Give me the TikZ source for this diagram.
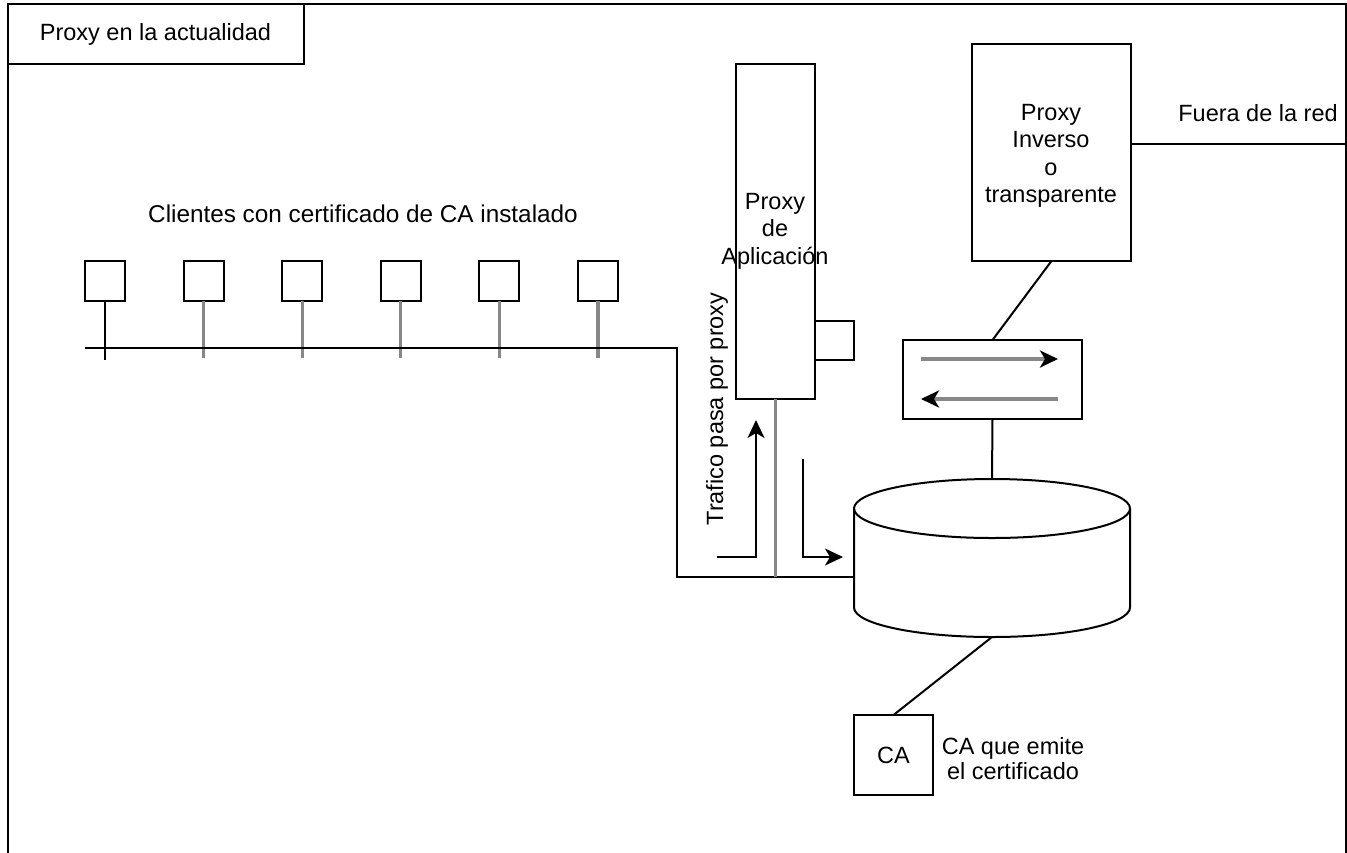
\documentclass[tikz,border=0pt]{standalone}
\usepackage{fontspec}
\setmainfont{Liberation Sans}
\usetikzlibrary{arrows.meta}
\definecolor{stemgray}{RGB}{135,135,135}
\begin{document}
\begin{tikzpicture}[x=1pt,y=-1pt, line width=2pt,
  every node/.style={font=\fontsize{23.5}{27.5}\selectfont, inner sep=0pt, outer sep=0pt},
  box/.style={draw, rectangle},
  ghost/.style={rectangle},
  stem/.style={draw=stemgray, line width=3.2pt},
  tip/.style={-{Stealth[length=18pt,width=17pt,inset=5pt,color=black]}}]
\useasboundingbox (0,0) rectangle (1347,852);
\clip (0,0) rectangle (1347,852);

% outer frame
\coordinate (fBL) at (8,900);
\coordinate (fTL) at (8,4);
\coordinate (fTR) at (1346,4);
\coordinate (fBR) at (1346,900);
\draw (fBL) -- (fTL) -- (fTR) -- (fBR);

% title
\node[box, minimum width=296, minimum height=60] (title) at (155.5,34) {};
\node (titletxt) at (title.center) {Proxy en la actualidad};

% clients
\node[font=\fontsize{24.3}{28}\selectfont] (clitxt) at (363,214) {Clientes con certificado de CA instalado};
\foreach \i/\xx in {1/105,2/203.6,3/302.2,4/400.8,5/499.4,6/598}{
  \node[box, minimum width=40, minimum height=40] (c\i) at (\xx,281) {};
}
\coordinate (busL) at (85,348);
\coordinate (busR) at (677,348);
\coordinate (busB) at (677,577);
\coordinate (s1) at (105,360);
\draw (c1.south) -- (s1);
\path (c2.south) ++(0,57) coordinate (s2);
\path (c3.south) ++(0,57) coordinate (s3);
\path (c4.south) ++(0,57) coordinate (s4);
\path (c5.south) ++(0,57) coordinate (s5);
\path (c6.south) ++(0,57) coordinate (s6);
\foreach \i in {2,...,6}{ \draw[stem] (c\i.south) -- (s\i); }

% application proxy
\node[box, minimum width=79, minimum height=335] (app) at (775.5,231.5) {};
\node[align=center] (apptxt) at (775,231) {Proxy\\de\\Aplicación};
\node[box, minimum width=39, minimum height=39] (port) at (834.5,340.5) {};

% cylinder (drawn by hand, ghost node for anchors)
\node[ghost, minimum width=276, minimum height=158] (cyl) at (992,558) {};
\draw (854,508.5) -- (854,607.5) arc[start angle=180, end angle=360, x radius=138pt, y radius=29.5pt] -- (1130,508.5);
\draw (992,508.5) ellipse[x radius=138pt, y radius=29.5pt];

% bus lines
\draw (busL) -- (busR) -- (busB) -- (busB -| cyl.west);
\draw[stem] (app.south) -- (app.south |- busB);

% traffic arrows
\node[rotate=90] (traf) at (717,409) {Trafico pasa por proxy};
\coordinate (u0) at (717,557);
\coordinate (u1) at (756,557);
\coordinate (u2) at (756,420);
\draw[tip] (u0) -- (u1) -- (u2);
\coordinate (d0) at (803,459);
\coordinate (d1) at (803,557);
\coordinate (d2) at (843,557);
\draw[tip] (d0) -- (d1) -- (d2);

% bidirectional box
\node[box, minimum width=179, minimum height=79] (bidir) at (992.5,379.5) {};
\coordinate (r0) at (921,359);
\coordinate (r1) at (1058,359);
\coordinate (l0) at (1058,399);
\coordinate (l1) at (921,399);
\draw[stem, tip] (r0) -- (r1);
\draw[stem, tip] (l0) -- (l1);

% reverse proxy
\node[box, minimum width=159, minimum height=217] (rev) at (1051.5,152.5) {};
\node[align=center] (revtxt) at (1051,156) {Proxy\\Inverso\\o\\transparente};
\coordinate (fr) at (1346,144);
\draw (rev.east |- fr) -- (fr);
\node (fuera) at (1258,113) {Fuera de la red};

\draw (rev.south) -- (bidir.north);
\draw (bidir.south) -- (cyl.north);

% CA
\node[box, minimum width=79, minimum height=80] (ca) at (893.5,755) {CA};
\draw (ca.north) -- (cyl.south);
\node[align=center, font=\fontsize{23.5}{25}\selectfont] (catxt) at (1013,759) {CA que emite\\el certificado};
\end{tikzpicture}
\end{document}
